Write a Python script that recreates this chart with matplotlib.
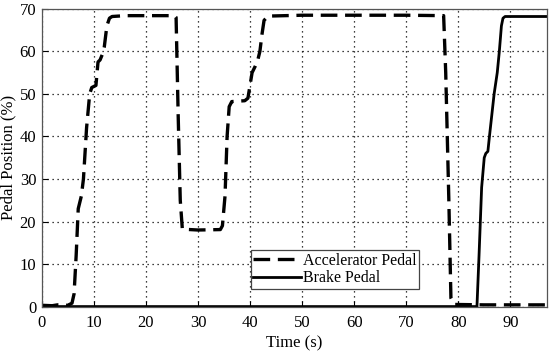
import numpy as np
import matplotlib
matplotlib.use("Agg")
import matplotlib.pyplot as plt

plt.rcParams['font.family'] = ['Liberation Serif', 'DejaVu Serif']

# accelerator pedal trace (time s, position %)
ACC_T = [0, 2, 3, 5, 5.8, 6.2, 6.6, 7.0, 7.6, 8.0, 8.6, 9.2, 9.6, 10.4, 10.8, 11.2, 11.7, 12.0,
         12.5, 13.0, 13.5, 16, 20, 25.5, 25.8, 26.2, 26.6, 27.0, 30, 34.3, 34.7, 35.2, 35.6, 36.0,
         36.5, 39.0, 39.6, 40.0, 40.4, 41.0, 41.5, 41.9, 42.3, 42.7, 43.5, 50, 60, 70, 77.2,
         77.6, 78.2, 78.6, 79.2, 85, 97]
ACC_Y = [0.3, 0.2, 0.4, 0.3, 0.8, 3, 12, 23, 26, 30, 42, 50, 51.5, 52, 57.5, 58, 59.5, 61,
         66, 67.8, 68.2, 68.4, 68.4, 68.4, 68.0, 45, 25, 18.2, 18.0, 18.1, 19, 26, 40, 47,
         48.2, 48.4, 49, 52, 55, 56.5, 58, 60, 64, 67.3, 68.3, 68.5, 68.5, 68.5, 68.4,
         55, 25, 2, 0.5, 0.4, 0.4]

# brake pedal trace
BRK_T = [0, 83.6, 84.0, 84.5, 85.0, 85.3, 85.7, 86.0, 86.9, 87.5, 87.9, 88.3, 88.6, 89.0, 97]
BRK_Y = [0, 0, 12, 28, 35, 36, 36.5, 40, 50, 55, 60, 66, 67.8, 68.2, 68.2]

fig = plt.figure(figsize=(5.5, 3.54), dpi=100)
ax = fig.add_axes([0.076, 0.134, 0.918, 0.841])

ax.plot(ACC_T, ACC_Y, color='black', lw=2.4, linestyle=(0, (5, 2.3)), label='Accelerator Pedal')
ax.plot(BRK_T, BRK_Y, color='black', lw=2.0, label='Brake Pedal')

ax.set_xlim(0, 97)
ax.set_ylim(0, 70)
ax.set_xticks(np.arange(0, 100, 10))
ax.set_yticks(np.arange(0, 80, 10))
ax.grid(True, color='black', linestyle=(0, (1, 3)), lw=0.9)
ax.tick_params(direction='in', labelsize=12, length=4)
ax.tick_params(axis='x', pad=6)
ax.tick_params(axis='y', pad=4)
for s in ax.spines.values():
    s.set_color('#555555')
    s.set_linewidth(0.9)
ax.set_xlabel('Time (s)', fontsize=12, labelpad=3)
ax.set_ylabel('Pedal Position (%)', fontsize=12, labelpad=2)

leg = ax.legend(loc='lower left', bbox_to_anchor=(0.414, 0.06), fontsize=11.5,
                frameon=True, fancybox=False, edgecolor='#444444', framealpha=1,
                handlelength=3.0, borderpad=0.15, labelspacing=0.1, handletextpad=0.1,
                borderaxespad=0)
leg.get_frame().set_linewidth(0.9)

fig.savefig('out.png', dpi=100)
